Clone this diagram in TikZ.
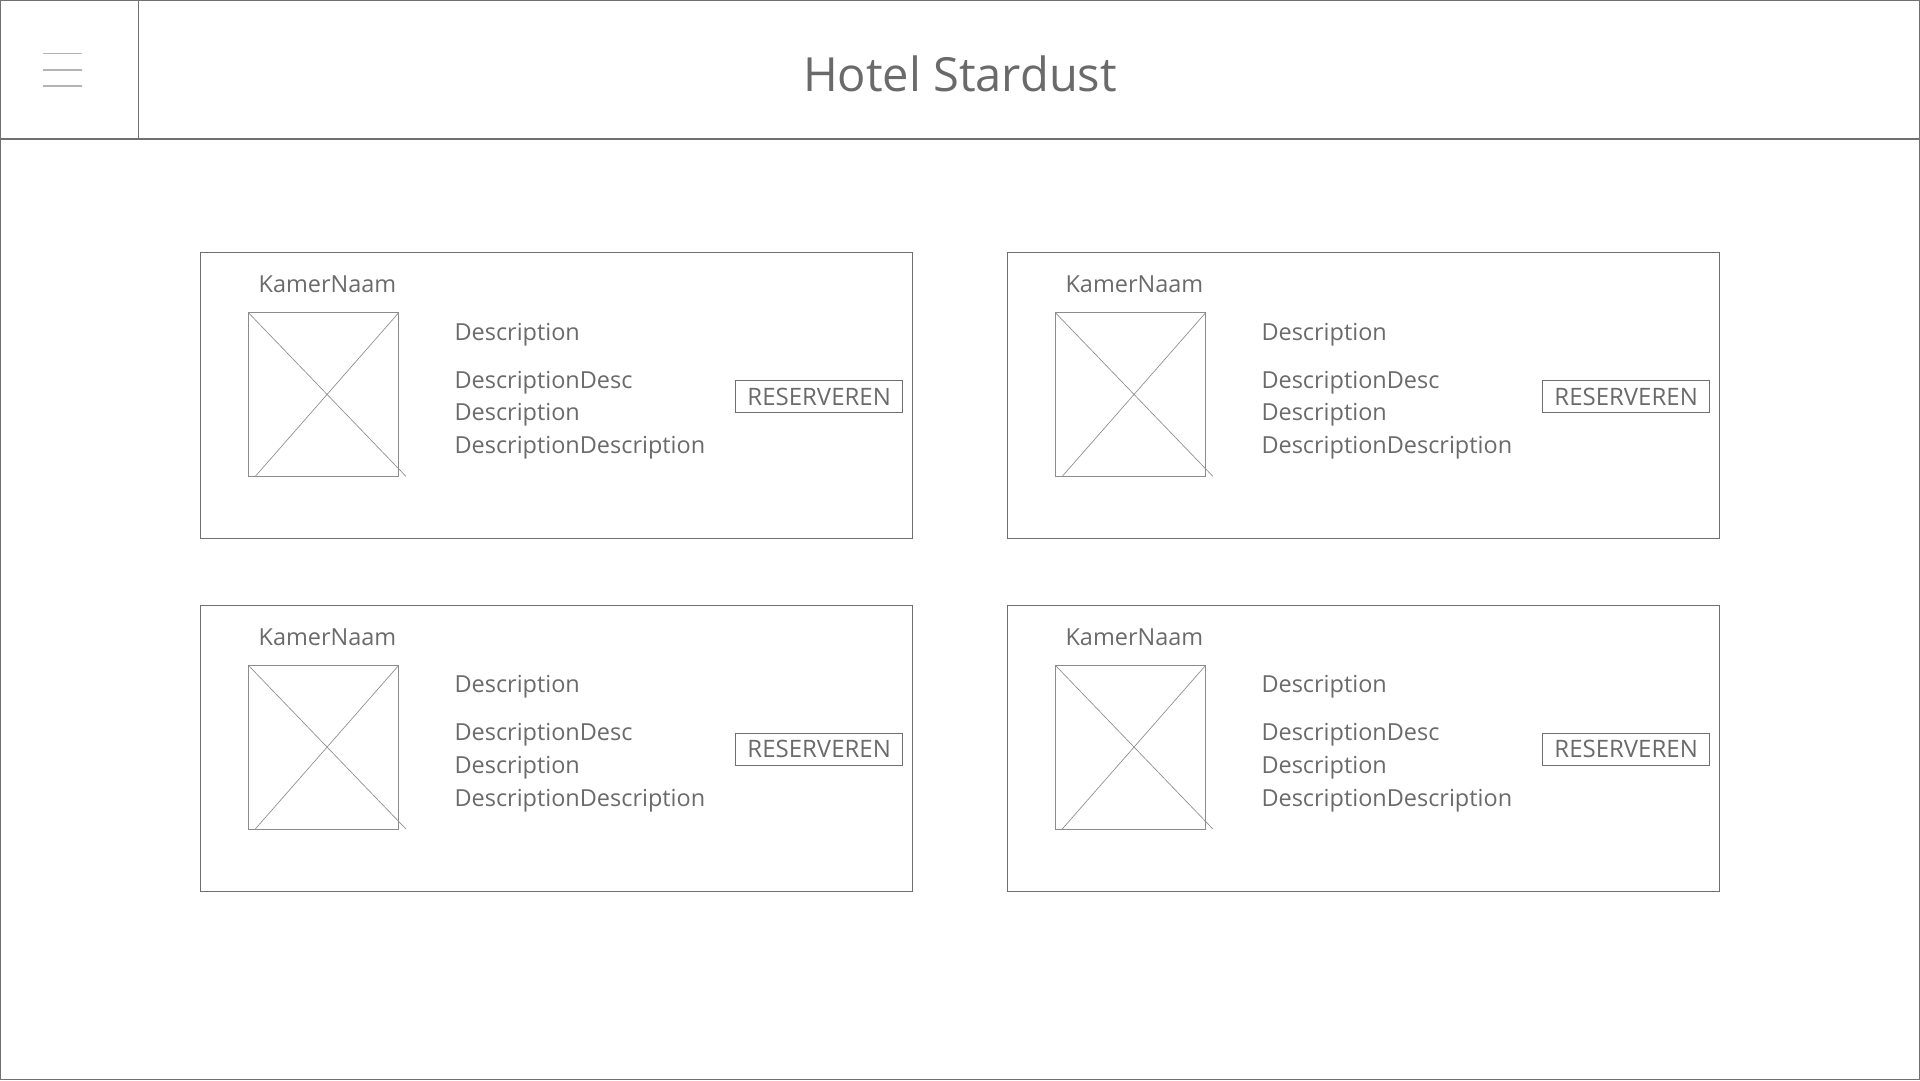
\documentclass[tikz,border=0pt]{standalone}
\usepackage{fontspec}
\setmainfont{Open Sans}
\definecolor{txt}{HTML}{6A6A6A}
\definecolor{ln}{HTML}{707070}
\definecolor{lnl}{HTML}{8C8C8C}
\definecolor{hb}{HTML}{B4B4B4}
\begin{document}
\begin{tikzpicture}[x=0.9184pt,y=-0.9184pt,
  frame/.style={draw=ln,line width=0.9pt},
  imgbox/.style={draw=lnl,line width=0.7pt},
  cross/.style={draw=lnl,line width=0.5pt},
  burger/.style={draw=hb,line width=1pt},
  body/.style={text=txt,font=\fontsize{17.6}{20}\selectfont,inner sep=0pt,anchor=base west},
  title/.style={text=txt,font=\fontsize{35.3}{42}\selectfont,inner sep=0pt,anchor=base},
  btn/.style={draw=ln,line width=0.8pt,text=txt,font=\fontsize{18}{20}\selectfont,
    minimum width=124.9pt,minimum height=23.9pt,inner sep=0pt,anchor=center}]
\useasboundingbox (0,0) rectangle (1568,882);
% outer frame and header
\draw[frame] (0.5,0.5) rectangle (1567.5,881.5);
\draw[frame] (0,113.5) -- (1568,113.5);
\draw[frame] (113,0) -- (113,113.5);
% hamburger
\draw[burger] (35.4,43.5) -- (66.7,43.5);
\draw[burger] (35.4,57.2) -- (66.7,57.2);
\draw[burger] (35.4,70.2) -- (66.7,70.2);
\node[title] (title) at (784,74.9) {Hotel Stardust};
% cards
\foreach \i/\dx/\dy in {1/0/0, 2/659/0, 3/0/288, 4/659/288}{
  \begin{scope}[shift={(\dx,\dy)}]
    \draw[frame] (164,206.5) rectangle (745,440);
    \node[body] (name\i) at (211,239) {KamerNaam};
    \draw[imgbox] (203,255.5) rectangle (325.5,389);
    \coordinate (tl\i) at (203,255.5);
    \coordinate (tr\i) at (325.5,255.5);
    \coordinate (br\i) at (331.5,389);
    \coordinate (bl\i) at (208.5,389);
    \draw[cross] (tl\i) -- (br\i);
    \draw[cross] (tr\i) -- (bl\i);
    \node[body] (da\i) at (371,277.7) {Description};
    \node[body] (db\i) at (371,317.1) {DescriptionDesc};
    \node[body] (dc\i) at (371,343.8) {Description};
    \node[body] (dd\i) at (371,370.5) {DescriptionDescription};
    \node[btn] (btn\i) at (669,324) {RESERVEREN};
  \end{scope}
}
\end{tikzpicture}
\end{document}
